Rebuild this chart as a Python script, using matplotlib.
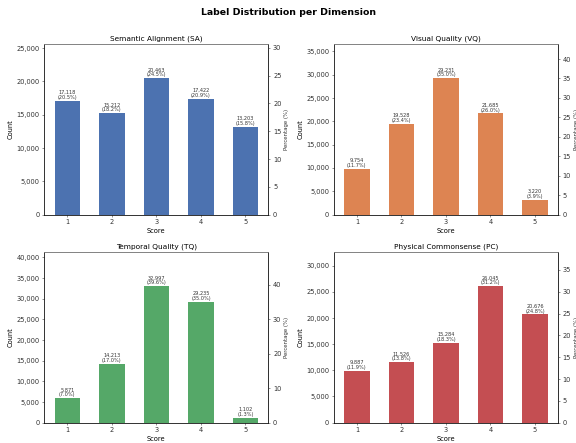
import matplotlib
matplotlib.use("Agg")
import matplotlib.pyplot as plt
from matplotlib.ticker import FuncFormatter

scores = [1, 2, 3, 4, 5]
titles = ["Semantic Alignment (SA)", "Visual Quality (VQ)",
          "Temporal Quality (TQ)", "Physical Commonsense (PC)"]
sa_counts = [17118, 15212, 20463, 17422, 13203]
vq_counts = [9754, 19528, 29231, 21685, 3220]
tq_counts = [5871, 14213, 32997, 29235, 1102]
pc_counts = [9887, 11526, 15284, 26045, 20676]
colors = ["#4C72B0", "#DD8452", "#55A868", "#C44E52"]
all_counts = [sa_counts, vq_counts, tq_counts, pc_counts]

plt.rcParams['font.family'] = ['DejaVu Sans']
fig = plt.figure(figsize=(12.02, 9.23), dpi=48)
gs = fig.add_gridspec(2, 2, left=0.077, right=0.967, top=0.9, bottom=0.046,
                      wspace=0.293, hspace=0.222)
fig.suptitle("Label Distribution per Dimension", fontsize=14, fontweight='bold', y=0.983)

for i, (counts, title, color) in enumerate(zip(all_counts, titles, colors)):
    ax = fig.add_subplot(gs[i // 2, i % 2])
    total = sum(counts)
    ax.bar(scores, counts, width=0.57, color=color)
    top = max(counts) * 1.25
    ax.set_ylim(0, top)
    ax.set_xticks(scores)
    ax.set_title(title, fontsize=11)
    ax.set_xlabel("Score", fontsize=10)
    ax.set_ylabel("Count", fontsize=10)
    ax.yaxis.set_major_formatter(FuncFormatter(lambda v, p: f"{int(v):,}"))
    ax.tick_params(labelsize=10, colors='#333333', labelcolor='#333333')
    for s, c in zip(scores, counts):
        ax.annotate(f"{c:,}\n({c / total * 100:.1f}%)", (s, c), xytext=(0, 1.5),
                    textcoords='offset points', ha='center', va='bottom',
                    fontsize=7.5, color='#333333', linespacing=1.0)
    ax2 = ax.twinx()
    ax2.set_ylim(0, top / total * 100)
    ax2.set_ylabel("Percentage (%)", fontsize=8, color='#333333')
    ax2.tick_params(labelsize=10, colors='#333333', labelcolor='#333333')
    for a in (ax, ax2):
        a.spines['top'].set_color('#808080')
        a.spines['top'].set_linewidth(1.2)
    ax2.spines['right'].set_linewidth(1.5)
    ax2.spines['right'].set_color('#333333')

fig.savefig("out.png", dpi=48)
